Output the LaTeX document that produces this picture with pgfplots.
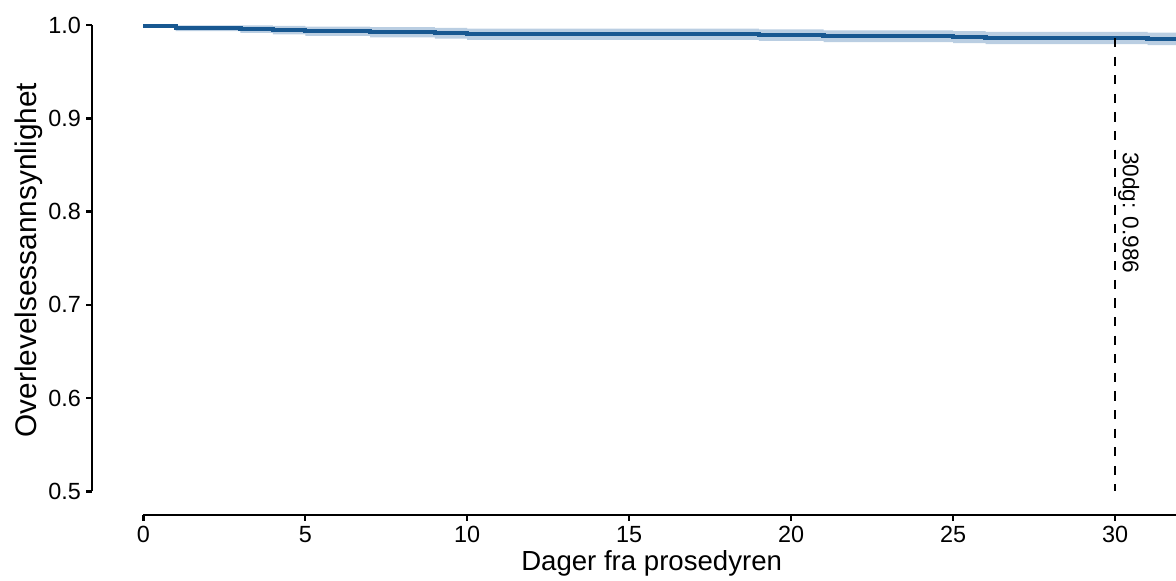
\documentclass[border=0pt]{standalone}
\usepackage{fontspec}
\setmainfont{Liberation Sans}
\usepackage{pgfplots}
\usepackage{pgfplotstable}
\pgfplotsset{compat=1.18}
\usepgfplotslibrary{fillbetween}

\definecolor{kmline}{RGB}{24,88,145}
\definecolor{kmband}{RGB}{186,206,226}

% Kaplan-Meier: tid, overlevelse, nedre og ovre konfidensgrense
\pgfplotstableread{
t     S       lo      up
0     0.9990  0.9980  1.0000
1     0.9965  0.9935  0.9995
3     0.9955  0.9915  0.9995
4     0.9945  0.9900  0.9990
5     0.9933  0.9883  0.9983
7     0.9922  0.9867  0.9977
9     0.9912  0.9854  0.9970
10    0.9901  0.9841  0.9961
19    0.9891  0.9829  0.9953
21    0.9880  0.9817  0.9943
25    0.9870  0.9805  0.9935
26    0.9860  0.9794  0.9926
31    0.9852  0.9785  0.9919
32    0.9852  0.9785  0.9919
}\kmdata

\begin{document}
\begin{tikzpicture}
\begin{axis}[
  at={(0,0)}, anchor=south west,
  scale only axis,
  width=542pt, height=257.5pt,
  xmin=-1.584, xmax=31.88,
  ymin=0.4748, ymax=1.0268,
  clip=false,
  axis lines*=left,
  axis line style={draw=none},
  xtick={0,5,...,30},
  ytick={0.5,0.6,0.7,0.8,0.9,1.0},
  yticklabel style={/pgf/number format/fixed,/pgf/number format/zerofill,
    /pgf/number format/precision=1, inner sep=2.6pt},
  xticklabel style={inner sep=2.6pt},
  /pgf/number format/assume math mode=true,
  tick label style={font=\fontsize{11.7}{13}\selectfont, black},
  tick align=outside,
  major tick length=2.8pt,
  tick style={black, line width=1.2pt},
  xlabel={Dager fra prosedyren},
  ylabel={Overlevelsessannsynlighet},
  xlabel style={at={(axis description cs:0.5163,-0.1068)}, anchor=base,
    font=\fontsize{13.8}{15}\selectfont},
  ylabel style={at={(axis description cs:-0.0512,0.495)}, anchor=base,
    font=\fontsize{14.9}{16}\selectfont},
]
% aksestreker
\draw[line width=1.2pt] (axis cs:-1.584,0.5) -- (axis cs:-1.584,1.0);
\draw[line width=1.2pt] (axis cs:0,0.4748) -- (axis cs:31.88,0.4748);

\addplot[name path=up, const plot, draw=none] table[x=t, y=up] {\kmdata};
\addplot[name path=lo, const plot, draw=none] table[x=t, y=lo] {\kmdata};
\addplot[kmband, fill=kmband, draw=none] fill between[of=up and lo];
\addplot[const plot, kmline, line width=2.2pt] table[x=t, y=S] {\kmdata};

\addplot[black, line width=1.1pt, dash pattern=on 4.6pt off 4.7pt]
  coordinates {(30,0.986) (30,0.5)};
\node[rotate=-90, anchor=base, font=\fontsize{11.3}{13}\selectfont]
  at (axis cs:30.24,0.7987) {30dg: 0.986};
\end{axis}
\pgfresetboundingbox
\useasboundingbox (-46pt,-32.5pt) rectangle (542pt,257.5pt);
\end{tikzpicture}
\end{document}
